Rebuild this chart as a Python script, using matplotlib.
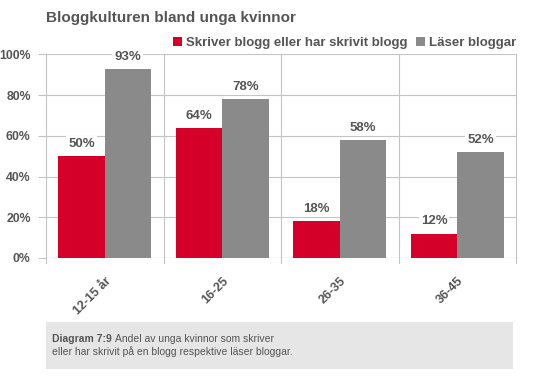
import matplotlib.pyplot as plt
from matplotlib.patches import Rectangle
import numpy as np

plt.rcParams['font.family'] = ['Liberation Sans', 'DejaVu Sans']

categories = ['12-15 år', '16-25', '26-35', '36-45']
skriver = [50, 64, 18, 12]
laser = [93, 78, 58, 52]
series_names = ['Skriver blogg eller har skrivit blogg', 'Läser bloggar']
yticks = [0, 20, 40, 60, 80, 100]

red = '#d5002a'
grey = '#8a8a8a'
text_col = '#555555'
grid_col = '#c4c4c4'

W, H = 540, 377
fig = plt.figure(figsize=(W / 100, H / 100), dpi=100)
ax = fig.add_axes([46 / W, 1 - 258 / H, 470 / W, 203.5 / H])

x = np.arange(len(categories))
w = 0.395
b1 = ax.bar(x - w / 2, skriver, w, color=red, label=series_names[0], zorder=3)
b2 = ax.bar(x + w / 2, laser, w, color=grey, label=series_names[1], zorder=3)

for bars in (b1, b2):
    for r in bars:
        ax.text(r.get_x() + r.get_width() / 2, r.get_height() + 3,
                f'{int(r.get_height())}%', ha='center', va='bottom',
                fontsize=9.5, fontweight='bold', color=text_col, zorder=4,
                bbox=dict(facecolor='white', edgecolor='none', pad=1.5))

ax.set_xlim(-0.5, len(categories) - 0.5)
ax.set_ylim(0, 100)
ax.set_yticks(yticks)
ax.set_yticklabels([f'{v}%' for v in yticks], fontsize=8.8, fontweight='bold', color=text_col)
ax.set_xticks(x)
ax.set_xticklabels(categories, rotation=45, ha='right', rotation_mode='anchor',
                   fontsize=9, fontweight='bold', color=text_col)
ax.tick_params(axis='x', length=0, pad=12)
ax.tick_params(axis='y', length=6, color=grid_col, pad=5)

ax.grid(axis='y', color=grid_col, linewidth=0.8, zorder=0)
for b in np.arange(-0.5, len(categories)):
    if -0.5 < b < len(categories) - 0.5:
        ax.axvline(b, color=grid_col, linewidth=0.8, zorder=0)
    ax.plot([b, b], [0, -0.025], transform=ax.get_xaxis_transform(), color=grid_col,
            linewidth=0.8, clip_on=False)
for s in ['top', 'bottom']:
    ax.spines[s].set_visible(False)
for s in ['left', 'right']:
    ax.spines[s].set_color(grid_col)
    ax.spines[s].set_linewidth(0.8)
ax.axhline(0, color=grid_col, linewidth=0.8, zorder=2)

fig.text(46 / W, 1 - 18 / H, 'Bloggkulturen bland unga kvinnor', fontsize=11,
         fontweight='bold', color=text_col, va='center')

leg = fig.legend(handles=[b1, b2], loc='center right', bbox_to_anchor=(516 / W, 1 - 43 / H),
                 ncol=2, frameon=False, fontsize=9.5, handlelength=0.7, handleheight=0.7,
                 handletextpad=0.3, columnspacing=0.6, borderaxespad=0, borderpad=0)
for t in leg.get_texts():
    t.set_fontweight('bold')
    t.set_color(text_col)

# caption box
fig.patches.append(Rectangle((46 / W, 1 - 369 / H), 467 / W, 47 / H,
                             transform=fig.transFigure, facecolor='#e6e6e6', edgecolor='none'))
cap_bold = fig.text(52.5 / W, 1 - 339 / H, 'Diagram 7:9', fontsize=7.5, fontweight='bold',
                    color=text_col, va='center')
renderer = fig.canvas.get_renderer()
bb = cap_bold.get_window_extent(renderer)
fig.text((bb.x1 + 2.5) / W, 1 - 339 / H, 'Andel av unga kvinnor som skriver',
         fontsize=7.5, color=text_col, va='center')
fig.text(52.5 / W, 1 - 352 / H, 'eller har skrivit på en blogg respektive läser bloggar.',
         fontsize=7.5, color=text_col, va='center')

fig.savefig('out.png', dpi=100)
